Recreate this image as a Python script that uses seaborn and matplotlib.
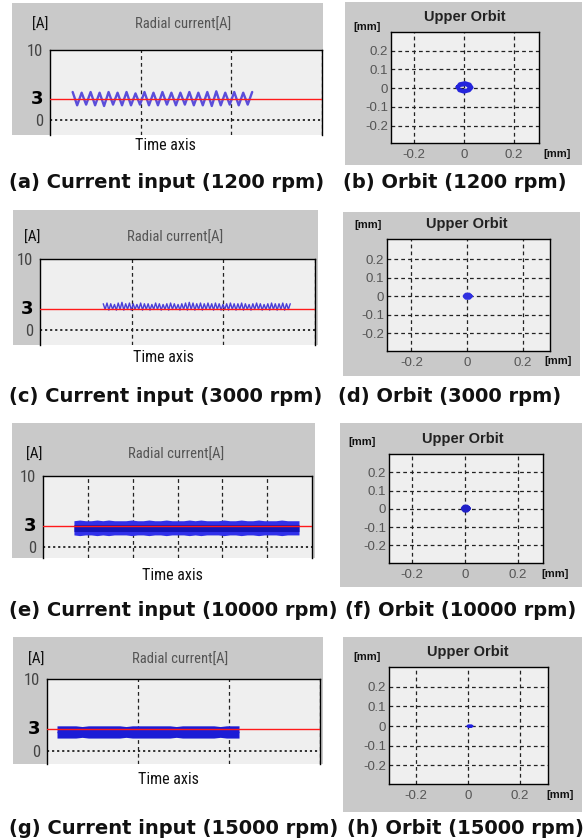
import numpy as np
import pandas as pd
import matplotlib
matplotlib.use("Agg")
import matplotlib.pyplot as plt
import seaborn as sns
from matplotlib.patches import Rectangle
from matplotlib import font_manager

sns.set_style("white")
_fonts = font_manager.fontManager.ttflist
_names = {f.name for f in _fonts}
NARROW_KW = None
for cand in ["Liberation Sans Narrow", "Roboto Condensed", "Open Sans Condensed"]:
    if cand in _names:
        NARROW_KW = dict(family=cand)
        SCALE = 1.0
        break
if NARROW_KW is None:
    if any(f.name == "DejaVu Sans" and f.stretch == "condensed" for f in _fonts):
        NARROW_KW = dict(family="DejaVu Sans", fontstretch="condensed")
        SCALE = 0.95
    else:
        NARROW_KW = dict(family="Liberation Sans")
        SCALE = 0.9
plt.rcParams["font.family"] = ["Liberation Sans", "DejaVu Sans"]

# ---------------- data ----------------
target_current = 3
current_yticks = [0, 10]
current_yticklabels = ["0", "10"]
orbit_xticks = [-0.2, 0, 0.2]
orbit_xticklabels = ["-0.2", "0", "0.2"]
orbit_yticks = [-0.2, -0.1, 0, 0.1, 0.2]
orbit_yticklabels = ["-0.2", "-0.1", "0", "0.1", "0.2"]

captions_left = ["(a) Current input (1200 rpm)", "(c) Current input (3000 rpm)",
                 "(e) Current input (10000 rpm)", "(g) Current input (15000 rpm)"]
captions_right = ["(b) Orbit (1200 rpm)", "(d) Orbit (3000 rpm)",
                  "(f) Orbit (10000 rpm)", "(h) Orbit (15000 rpm)"]

# 1200 rpm current (peaks / troughs)
wave_1200 = [4.0, 2.1, 3.9, 2.2, 4.0, 2.1, 3.9, 2.0, 4.0, 2.2, 3.9, 2.1, 4.0, 2.1,
             3.8, 2.2, 4.0, 2.1, 3.9, 2.1, 4.0, 2.2, 3.9, 2.1, 3.9, 2.2, 4.0, 2.1,
             3.9, 2.1, 4.0, 2.0, 4.1, 2.1, 3.9, 2.2, 4.0, 2.1, 3.9, 2.2, 4.0]
t_1200_span = (0.25, 2.23)

# 3000 rpm current
wave_3000 = [3.7, 2.9, 3.8, 2.8, 3.7, 2.9, 3.6, 2.8, 3.8, 2.9, 3.9, 2.8, 3.7, 2.9,
             3.8, 2.8, 3.7, 2.9, 3.6, 2.9, 3.8, 2.8, 3.7, 2.9, 3.7, 2.8, 3.6, 2.9,
             3.8, 2.9, 3.7, 2.8, 3.6, 2.9, 3.7, 2.8, 3.8, 2.9, 3.7, 2.9, 3.6, 2.8,
             3.7, 2.9, 3.8, 2.8, 3.9, 2.9, 3.8, 2.8, 3.7, 2.9, 3.8, 2.8, 3.7, 2.9,
             3.8, 2.9, 3.7, 2.8, 3.8, 2.9, 3.7, 2.8, 3.6, 2.9, 3.7, 2.8, 3.8, 2.9,
             3.7, 2.8, 3.7, 2.9, 3.8, 2.8, 3.7, 2.9, 3.6, 2.8, 3.7, 2.9, 3.8, 2.9,
             3.7, 2.8, 3.6, 2.9, 3.7, 2.8, 3.8, 2.9, 3.7, 2.8, 3.7, 2.9, 3.8, 2.8,
             3.7, 2.9, 3.7]
t_3000_span = (0.69, 2.73)

# 10000 rpm current: envelope of dense oscillation
env_10000_upper = [3.7, 3.8, 3.7, 3.7, 3.8, 3.7, 3.8, 3.7, 3.7, 3.7, 3.8, 3.7, 3.7, 3.8,
                   3.7, 3.7, 3.8, 3.7, 3.7, 3.7, 3.8, 3.7, 3.8, 3.7, 3.7, 3.7, 3.8, 3.7,
                   3.7, 3.8, 3.7, 3.7, 3.8, 3.7, 3.7, 3.7, 3.8, 3.7, 3.7, 3.7]
env_10000_lower = [1.7, 1.6, 1.7, 1.7, 1.6, 1.7, 1.6, 1.7, 1.7, 1.7, 1.6, 1.7, 1.7, 1.6,
                   1.7, 1.7, 1.6, 1.7, 1.7, 1.7, 1.6, 1.7, 1.6, 1.7, 1.7, 1.7, 1.6, 1.7,
                   1.7, 1.6, 1.7, 1.7, 1.6, 1.7, 1.7, 1.7, 1.6, 1.7, 1.7, 1.7]
t_10000_span = (0.69, 5.71)

# 15000 rpm current: envelope of dense oscillation
env_15000_upper = [3.5, 3.5, 3.5, 3.5, 3.4, 3.5, 3.5, 3.5, 3.5, 3.5, 3.5, 3.4, 3.5, 3.5,
                   3.5, 3.5, 3.5, 3.5, 3.5, 3.4, 3.5, 3.5, 3.5, 3.5, 3.5, 3.5, 3.4, 3.5,
                   3.5, 3.5]
env_15000_lower = [1.8, 1.8, 1.8, 1.8, 1.9, 1.8, 1.8, 1.8, 1.8, 1.8, 1.8, 1.9, 1.8, 1.8,
                   1.8, 1.8, 1.8, 1.8, 1.8, 1.9, 1.8, 1.8, 1.8, 1.8, 1.8, 1.8, 1.9, 1.8,
                   1.8, 1.8]
t_15000_span = (0.11, 2.11)

# orbits [mm]
orbit_1200_x = [-0.028, -0.018, 0.004, 0.024, 0.033, 0.022, 0.000, -0.020, -0.028,
                -0.014, 0.008, 0.022, 0.014, -0.006, -0.022, -0.028]
orbit_1200_y = [0.006, 0.024, 0.030, 0.022, 0.003, -0.014, -0.022, -0.014, 0.006,
                0.014, 0.018, 0.005, -0.009, -0.012, 0.000, 0.006]
orbit_3000_x = [0.013, 0.008, -0.003, -0.008, -0.003, 0.008, 0.013]
orbit_3000_y = [0.000, 0.008, 0.008, 0.000, -0.008, -0.008, 0.000]
orbit_10000_x = [0.012, 0.007, -0.002, -0.007, -0.002, 0.007, 0.012]
orbit_10000_y = [0.002, 0.010, 0.010, 0.002, -0.007, -0.007, 0.002]
orbit_15000_x = [0.000, 0.008, 0.016, 0.008, 0.000]
orbit_15000_y = [0.000, 0.002, 0.000, -0.002, 0.000]

# ---------------- layout (pixels) ----------------
W, H = 587, 839
fig = plt.figure(figsize=(W / 100, H / 100), dpi=100)
fig.patch.set_facecolor("white")

GRAY = "#c9c9c9"
FACE = "#efefef"


def add_ax(l, t, r, b):
    return fig.add_axes([l / W, 1 - b / H, (r - l) / W, (b - t) / H])


def add_box(l, t, r, b):
    fig.add_artist(Rectangle((l / W, 1 - b / H), (r - l) / W, (b - t) / H,
                             transform=fig.transFigure, facecolor=GRAY,
                             edgecolor="none", zorder=-5))


def ftext(x, y, s, **kw):
    kw.setdefault("ha", "center")
    kw.setdefault("va", "center")
    fig.text(x / W, 1 - y / H, s, **kw)


cur_panels = [
    dict(box=(12, 3, 323, 135), ax=(50, 50, 322, 135), xmax=3, ymin=-2.14, xgrid=[1, 2, 3],
         unit=(40, 25), title=(183, 25), time=(165, 145)),
    dict(box=(13, 210, 318, 345), ax=(40, 259, 315, 345), xmax=3, ymin=-2.11, xgrid=[1, 2, 3],
         unit=(32, 238), title=(175, 238), time=(163, 357)),
    dict(box=(12, 423, 315, 558), ax=(43, 476, 312, 558), xmax=6, ymin=-1.55,
         xgrid=[1, 2, 3, 4, 5], unit=(34, 455), title=(176, 455), time=(172, 575)),
    dict(box=(13, 637, 323, 764), ax=(47, 679, 320, 764), xmax=3, ymin=-1.8, xgrid=[1, 2, 3],
         unit=(36, 660), title=(180, 660), time=(168, 780)),
]

orb_panels = [
    dict(box=(345, 2, 582, 165), ax=(391, 32, 539, 143), lim=(-0.292, 0.30, -0.293, 0.30),
         title=(465, 17), ymm=(367, 27), xmm=(557, 154)),
    dict(box=(343, 212, 580, 376), ax=(387, 239, 550, 351), lim=(-0.288, 0.299, -0.297, 0.31),
         title=(467, 224), ymm=(368, 225), xmm=(558, 361)),
    dict(box=(340, 423, 582, 587), ax=(389, 454, 543, 563), lim=(-0.287, 0.294, -0.296, 0.30),
         title=(463, 439), ymm=(362, 442), xmm=(555, 574)),
    dict(box=(343, 637, 582, 812), ax=(389, 667, 548, 784), lim=(-0.304, 0.308, -0.294, 0.30),
         title=(468, 652), ymm=(367, 657), xmm=(560, 795)),
]

caption_y = [183, 396, 610, 828]
caption_right_x = [343, 338, 345, 347]

# ---------------- current panels ----------------
cur_axes = []
for p in cur_panels:
    add_box(*p["box"])
    ax = add_ax(*p["ax"])
    ax.set_facecolor(FACE)
    cur_axes.append(ax)

# (a) 1200 rpm
ax = cur_axes[0]
t = np.linspace(*t_1200_span, len(wave_1200))
sns.lineplot(x=t, y=wave_1200, ax=ax, color="#5a4edb", lw=1.7, estimator=None, sort=False)
# (c) 3000 rpm
ax = cur_axes[1]
t = np.linspace(*t_3000_span, len(wave_3000))
sns.lineplot(x=t, y=wave_3000, ax=ax, color="#4a3fd8", lw=1.0, estimator=None, sort=False)


def band(ax, span, upper, lower, band_color, core_color, core_lw):
    t = np.linspace(*span, len(upper))
    df = pd.DataFrame({"t": np.concatenate([t, t]),
                       "i": np.concatenate([upper, lower])})
    sns.lineplot(data=df, x="t", y="i", ax=ax, estimator="mean", errorbar=("pi", 100),
                 color=band_color, lw=0, err_kws={"alpha": 1.0, "linewidth": 0})
    sns.lineplot(data=df, x="t", y="i", ax=ax, estimator="mean", errorbar=None,
                 color=core_color, lw=core_lw, solid_capstyle="butt")
    ax.set_xlabel("")
    ax.set_ylabel("")


band(cur_axes[2], t_10000_span, env_10000_upper, env_10000_lower, "#3030ea", "#1414b8", 5)
band(cur_axes[3], t_15000_span, env_15000_upper, env_15000_lower, "#1c1cd6", "#1c1cd6", 1)

for p, ax in zip(cur_panels, cur_axes):
    ax.axhline(target_current, color="#ff1a1a", lw=1.0, zorder=5)
    ax.set_xlim(0, p["xmax"])
    ax.set_ylim(p["ymin"], 10)
    ax.set_xticks(p["xgrid"])
    ax.set_xticklabels([])
    ax.set_yticks(current_yticks)
    ax.set_yticklabels(current_yticklabels, fontsize=12 * SCALE, color="#444444", **NARROW_KW)
    ax.tick_params(length=0, pad=5)
    ax.xaxis.grid(True, linestyle=(0, (3, 2.5)), color="#222222", lw=0.9)
    ax.yaxis.grid(True, linestyle=(0, (1.2, 1.6)), color="#222222", lw=1.3)
    ax.set_axisbelow(True)
    for s in ["left", "top", "right"]:
        ax.spines[s].set_visible(True)
        ax.spines[s].set_color("black")
        ax.spines[s].set_linewidth(1.0)
    ax.spines["bottom"].set_visible(False)
    ax.annotate("3", xy=(0, target_current), xycoords=("axes fraction", "data"),
                xytext=(-5, 0), textcoords="offset points", ha="right", va="center",
                fontsize=13, fontweight="bold", color="black", family="DejaVu Sans",
                annotation_clip=False)
    ftext(*p["unit"], "[A]", fontsize=11 * SCALE, color="#111111", **NARROW_KW)
    ftext(*p["title"], "Radial current[A]", fontsize=10.5 * SCALE, color="#555555", **NARROW_KW)
    ftext(*p["time"], "Time axis", fontsize=11.5 * SCALE, color="#111111", **NARROW_KW)

# ---------------- orbit panels ----------------
orbits = [(orbit_1200_x, orbit_1200_y, 2.0, "#2424dc"),
          (orbit_3000_x, orbit_3000_y, 3.0, "#3030e0"),
          (orbit_10000_x, orbit_10000_y, 3.5, "#2020c8"),
          (orbit_15000_x, orbit_15000_y, 2.0, "#2020e0")]

for p, (ox, oy, lw, col) in zip(orb_panels, orbits):
    add_box(*p["box"])
    ax = add_ax(*p["ax"])
    ax.set_facecolor(FACE)
    sns.lineplot(x=ox, y=oy, ax=ax, color=col, lw=lw, estimator=None, sort=False, zorder=5)
    x0, x1, y0, y1 = p["lim"]
    ax.set_xlim(x0, x1)
    ax.set_ylim(y0, y1)
    ax.set_xticks(orbit_xticks)
    ax.set_xticklabels(orbit_xticklabels)
    ax.set_yticks(orbit_yticks)
    ax.set_yticklabels(orbit_yticklabels)
    ax.tick_params(length=0, labelsize=9.5, labelcolor="#555555")
    ax.tick_params(axis="y", pad=2)
    ax.tick_params(axis="x", pad=4)
    ax.grid(True, linestyle=(0, (3, 2.5)), color="#222222", lw=0.9)
    ax.set_axisbelow(True)
    for s in ax.spines.values():
        s.set_visible(True)
        s.set_color("black")
        s.set_linewidth(1.0)
    ftext(*p["title"], "Upper Orbit", fontsize=10.5, fontweight="bold", color="#222222")
    ftext(*p["ymm"], "[mm]", fontsize=8, fontweight="bold", color="#111111")
    ftext(*p["xmm"], "[mm]", fontsize=8, fontweight="bold", color="#111111")

# ---------------- captions ----------------
for cy, cl, cr, rx in zip(caption_y, captions_left, captions_right, caption_right_x):
    ftext(9, cy, cl, ha="left", fontsize=14, fontweight="bold", family="DejaVu Sans",
          color="#111111")
    ftext(rx, cy, cr, ha="left", fontsize=14, fontweight="bold", family="DejaVu Sans",
          color="#111111")

fig.savefig("out.png", dpi=100)
